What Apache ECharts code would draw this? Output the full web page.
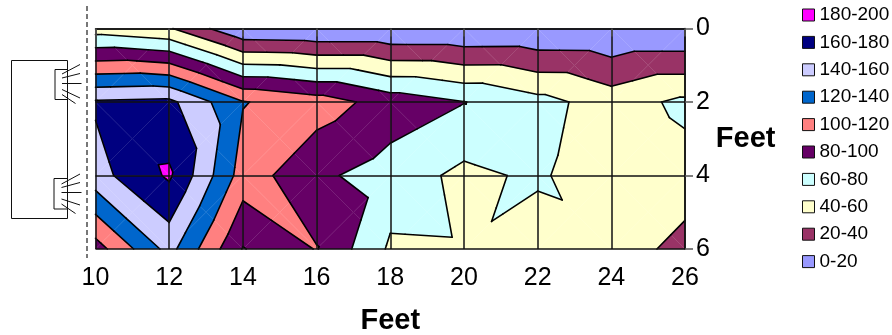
<!DOCTYPE html>
<html>
<head>
<meta charset="utf-8">
<style>
  html, body { margin: 0; padding: 0; background: #fff; }
  #main { width: 892px; height: 335px; }
</style>
<script src="https://cdn.jsdelivr.net/npm/echarts@6/dist/echarts.min.js"></script>
</head>
<body>
<div id="main"></div>
<script>
// readings, feet along the wall and feet down
var xFeet = [10, 12, 14, 16, 18, 20, 22, 24, 26];
var yFeet = [0, 2, 4, 6];
var row0 = [50.6, 42, 2, 0.3, 0.3, 0.1, 0.5, 0.1, 0.1];
var row2 = [162.5, 165, 121, 110, 91.5, 80.5, 66.8, 50.8, 64.3];
var row4 = [152.5, 183, 111, 84, 71, 55, 63.5, 44, 52.5];
var row6 = [91, 147, 79, 101, 57, 57.9, 47, 53, 32];
// value at the middle of each grid cell, where the diagonals cross
var mid02 = [107.8, 83.5, 60.65, 55.15, 45.75, 40.5, 33.4, 32.15];
var mid24 = [172.75, 152, 110.5, 90.5, 75.75, 72, 57.15, 54.15];
var mid46 = [149.75, 131, 106, 86, 64.45, 60.7, 58.25, 52.75];

var bandNames = ['180-200', '160-180', '140-160', '120-140', '100-120', '80-100', '60-80', '40-60', '20-40', '0-20'];
var bandLows = [180, 160, 140, 120, 100, 80, 60, 40, 20, 0];
var bandColors = ['#ff00ff', '#000080', '#ccccff', '#0066cc', '#ff8080', '#660066', '#ccffff', '#ffffcc', '#993366', '#9999ff'];

var rows = [row0, row2, row4, row6];
var mids = [mid02, mid24, mid46];

// every cell is cut into 4 triangles
var triangles = [];
for (var j = 0; j < yFeet.length - 1; j++) {
  for (var i = 0; i < xFeet.length - 1; i++) {
    var a = [xFeet[i], yFeet[j], rows[j][i]];
    var b = [xFeet[i + 1], yFeet[j], rows[j][i + 1]];
    var c = [xFeet[i + 1], yFeet[j + 1], rows[j + 1][i + 1]];
    var d = [xFeet[i], yFeet[j + 1], rows[j + 1][i]];
    var m = [(xFeet[i] + xFeet[i + 1]) / 2, (yFeet[j] + yFeet[j + 1]) / 2, mids[j][i]];
    triangles.push([a, b, m], [b, c, m], [c, d, m], [d, a, m]);
  }
}

function cross(p, q, level) {
  var t = (level - p[2]) / (q[2] - p[2]);
  return [p[0] + t * (q[0] - p[0]), p[1] + t * (q[1] - p[1]), level];
}

// keep the part of a polygon on one side of a level
function clip(poly, level, keepAbove) {
  var out = [];
  for (var n = 0; n < poly.length; n++) {
    var p = poly[n];
    var q = poly[(n + 1) % poly.length];
    var pIn = keepAbove ? p[2] >= level : p[2] <= level;
    var qIn = keepAbove ? q[2] >= level : q[2] <= level;
    if (pIn) out.push(p);
    if (pIn !== qIn) out.push(cross(p, q, level));
  }
  return out;
}

function bandPolygons(low) {
  var list = [];
  triangles.forEach(function (t) {
    var poly = clip(clip(t, low, true), low + 20, false);
    if (poly.length > 2) list.push(poly);
  });
  return list;
}

function contourSegments() {
  var list = [];
  bandLows.forEach(function (level) {
    if (level === 0) return;
    triangles.forEach(function (t) {
      var pts = [];
      for (var n = 0; n < 3; n++) {
        var p = t[n];
        var q = t[(n + 1) % 3];
        if ((p[2] < level) !== (q[2] < level)) pts.push(cross(p, q, level));
      }
      if (pts.length === 2) list.push(pts);
    });
  });
  return list;
}

var series = bandNames.map(function (name, k) {
  var polys = bandPolygons(bandLows[k]);
  return {
    name: name,
    type: 'custom',
    coordinateSystem: 'cartesian2d',
    silent: true,
    z: 1,
    itemStyle: { color: bandColors[k] },
    data: polys.map(function (p, idx) { return [idx]; }),
    renderItem: function (params, api) {
      var pts = polys[api.value(0)].map(function (p) { return api.coord([p[0], p[1]]); });
      return {
        type: 'polygon',
        shape: { points: pts },
        style: { fill: bandColors[k], stroke: bandColors[k], lineWidth: 0.3 }
      };
    }
  };
});

var segments = contourSegments();
series.push({
  name: 'contours',
  type: 'custom',
  coordinateSystem: 'cartesian2d',
  silent: true,
  z: 2,
  data: segments.map(function (s, idx) { return [idx]; }),
  renderItem: function (params, api) {
    var s = segments[api.value(0)];
    var p1 = api.coord([s[0][0], s[0][1]]);
    var p2 = api.coord([s[1][0], s[1][1]]);
    return {
      type: 'line',
      shape: { x1: p1[0], y1: p1[1], x2: p2[0], y2: p2[1] },
      style: { stroke: '#000', lineWidth: 1.6, lineCap: 'round' }
    };
  }
});

// the wall and the two fans on the left
function wallLine(x1, y1, x2, y2) {
  return { type: 'line', shape: { x1: x1, y1: y1, x2: x2, y2: y2 }, style: { stroke: '#111', lineWidth: 1 } };
}
function wallBox(x, y, w, h) {
  return { type: 'rect', shape: { x: x, y: y, width: w, height: h }, style: { fill: 'none', stroke: '#111', lineWidth: 1 } };
}
var sketch = [
  wallBox(11.5, 60.5, 56, 158),
  wallBox(55, 69.5, 12.5, 30),
  wallBox(54, 178.5, 13.5, 30.5),
  wallLine(62, 74, 80, 64.5),
  wallLine(62, 78, 80, 73.5),
  wallLine(62, 83.5, 81.5, 83.5),
  wallLine(62, 89.5, 80, 98),
  wallLine(62, 94.5, 75.5, 103.5),
  wallLine(61.5, 184, 80, 174),
  wallLine(61.5, 187.5, 80, 182.5),
  wallLine(61.5, 192.5, 81.5, 192.5),
  wallLine(61.5, 199, 80, 205),
  wallLine(61.5, 204, 75.5, 213.5),
  { type: 'line', shape: { x1: 87, y1: 6, x2: 87, y2: 258 }, style: { stroke: '#777', lineWidth: 2, lineDash: [5, 3] } }
];

var labelFont = 'Liberation Sans';

var myChart = echarts.init(document.getElementById('main'));
myChart.setOption({
  animation: false,
  backgroundColor: '#fff',
  graphic: sketch,
  legend: {
    orient: 'vertical',
    left: 797,
    top: 0,
    itemWidth: 12,
    itemHeight: 12,
    itemGap: 7.4,
    icon: 'rect',
    selectedMode: false,
    textStyle: { fontFamily: labelFont, fontSize: 19, color: '#000', lineHeight: 20 },
    data: bandNames.map(function (n) {
      return { name: n, itemStyle: { borderColor: '#111', borderWidth: 1 } };
    })
  },
  grid: { left: 95.5, top: 28.5, width: 589.5, height: 220.5, outerBoundsMode: 'none' },
  xAxis: {
    type: 'value',
    min: 10,
    max: 26,
    interval: 2,
    z: 3,
    name: 'Feet',
    nameLocation: 'middle',
    nameGap: 57,
    nameTextStyle: { fontFamily: labelFont, fontSize: 29, fontWeight: 'bold', color: '#000' },
    axisLine: { show: true, lineStyle: { color: '#111', width: 1.5 } },
    axisTick: { show: true, length: 8, lineStyle: { color: '#555', width: 1.5 } },
    axisLabel: { fontFamily: labelFont, fontSize: 25, color: '#000', margin: 17 },
    splitLine: { show: true, lineStyle: { color: '#111', width: 1.5 } }
  },
  yAxis: {
    type: 'value',
    inverse: true,
    position: 'right',
    min: 0,
    max: 6,
    interval: 2,
    z: 3,
    name: 'Feet',
    nameLocation: 'middle',
    nameRotate: 0,
    nameGap: 30,
    nameTextStyle: { fontFamily: labelFont, fontSize: 29, fontWeight: 'bold', color: '#000', padding: [10, 0, 0, 0] },
    axisLine: { show: true, lineStyle: { color: '#111', width: 1.5 } },
    axisTick: { show: true, length: 8, lineStyle: { color: '#555', width: 1.5 } },
    axisLabel: { fontFamily: labelFont, fontSize: 25, color: '#000', margin: 11, padding: [4, 0, 0, 0] },
    splitLine: { show: true, lineStyle: { color: '#111', width: 1.5 } }
  },
  series: series
});
</script>
</body>
</html>
